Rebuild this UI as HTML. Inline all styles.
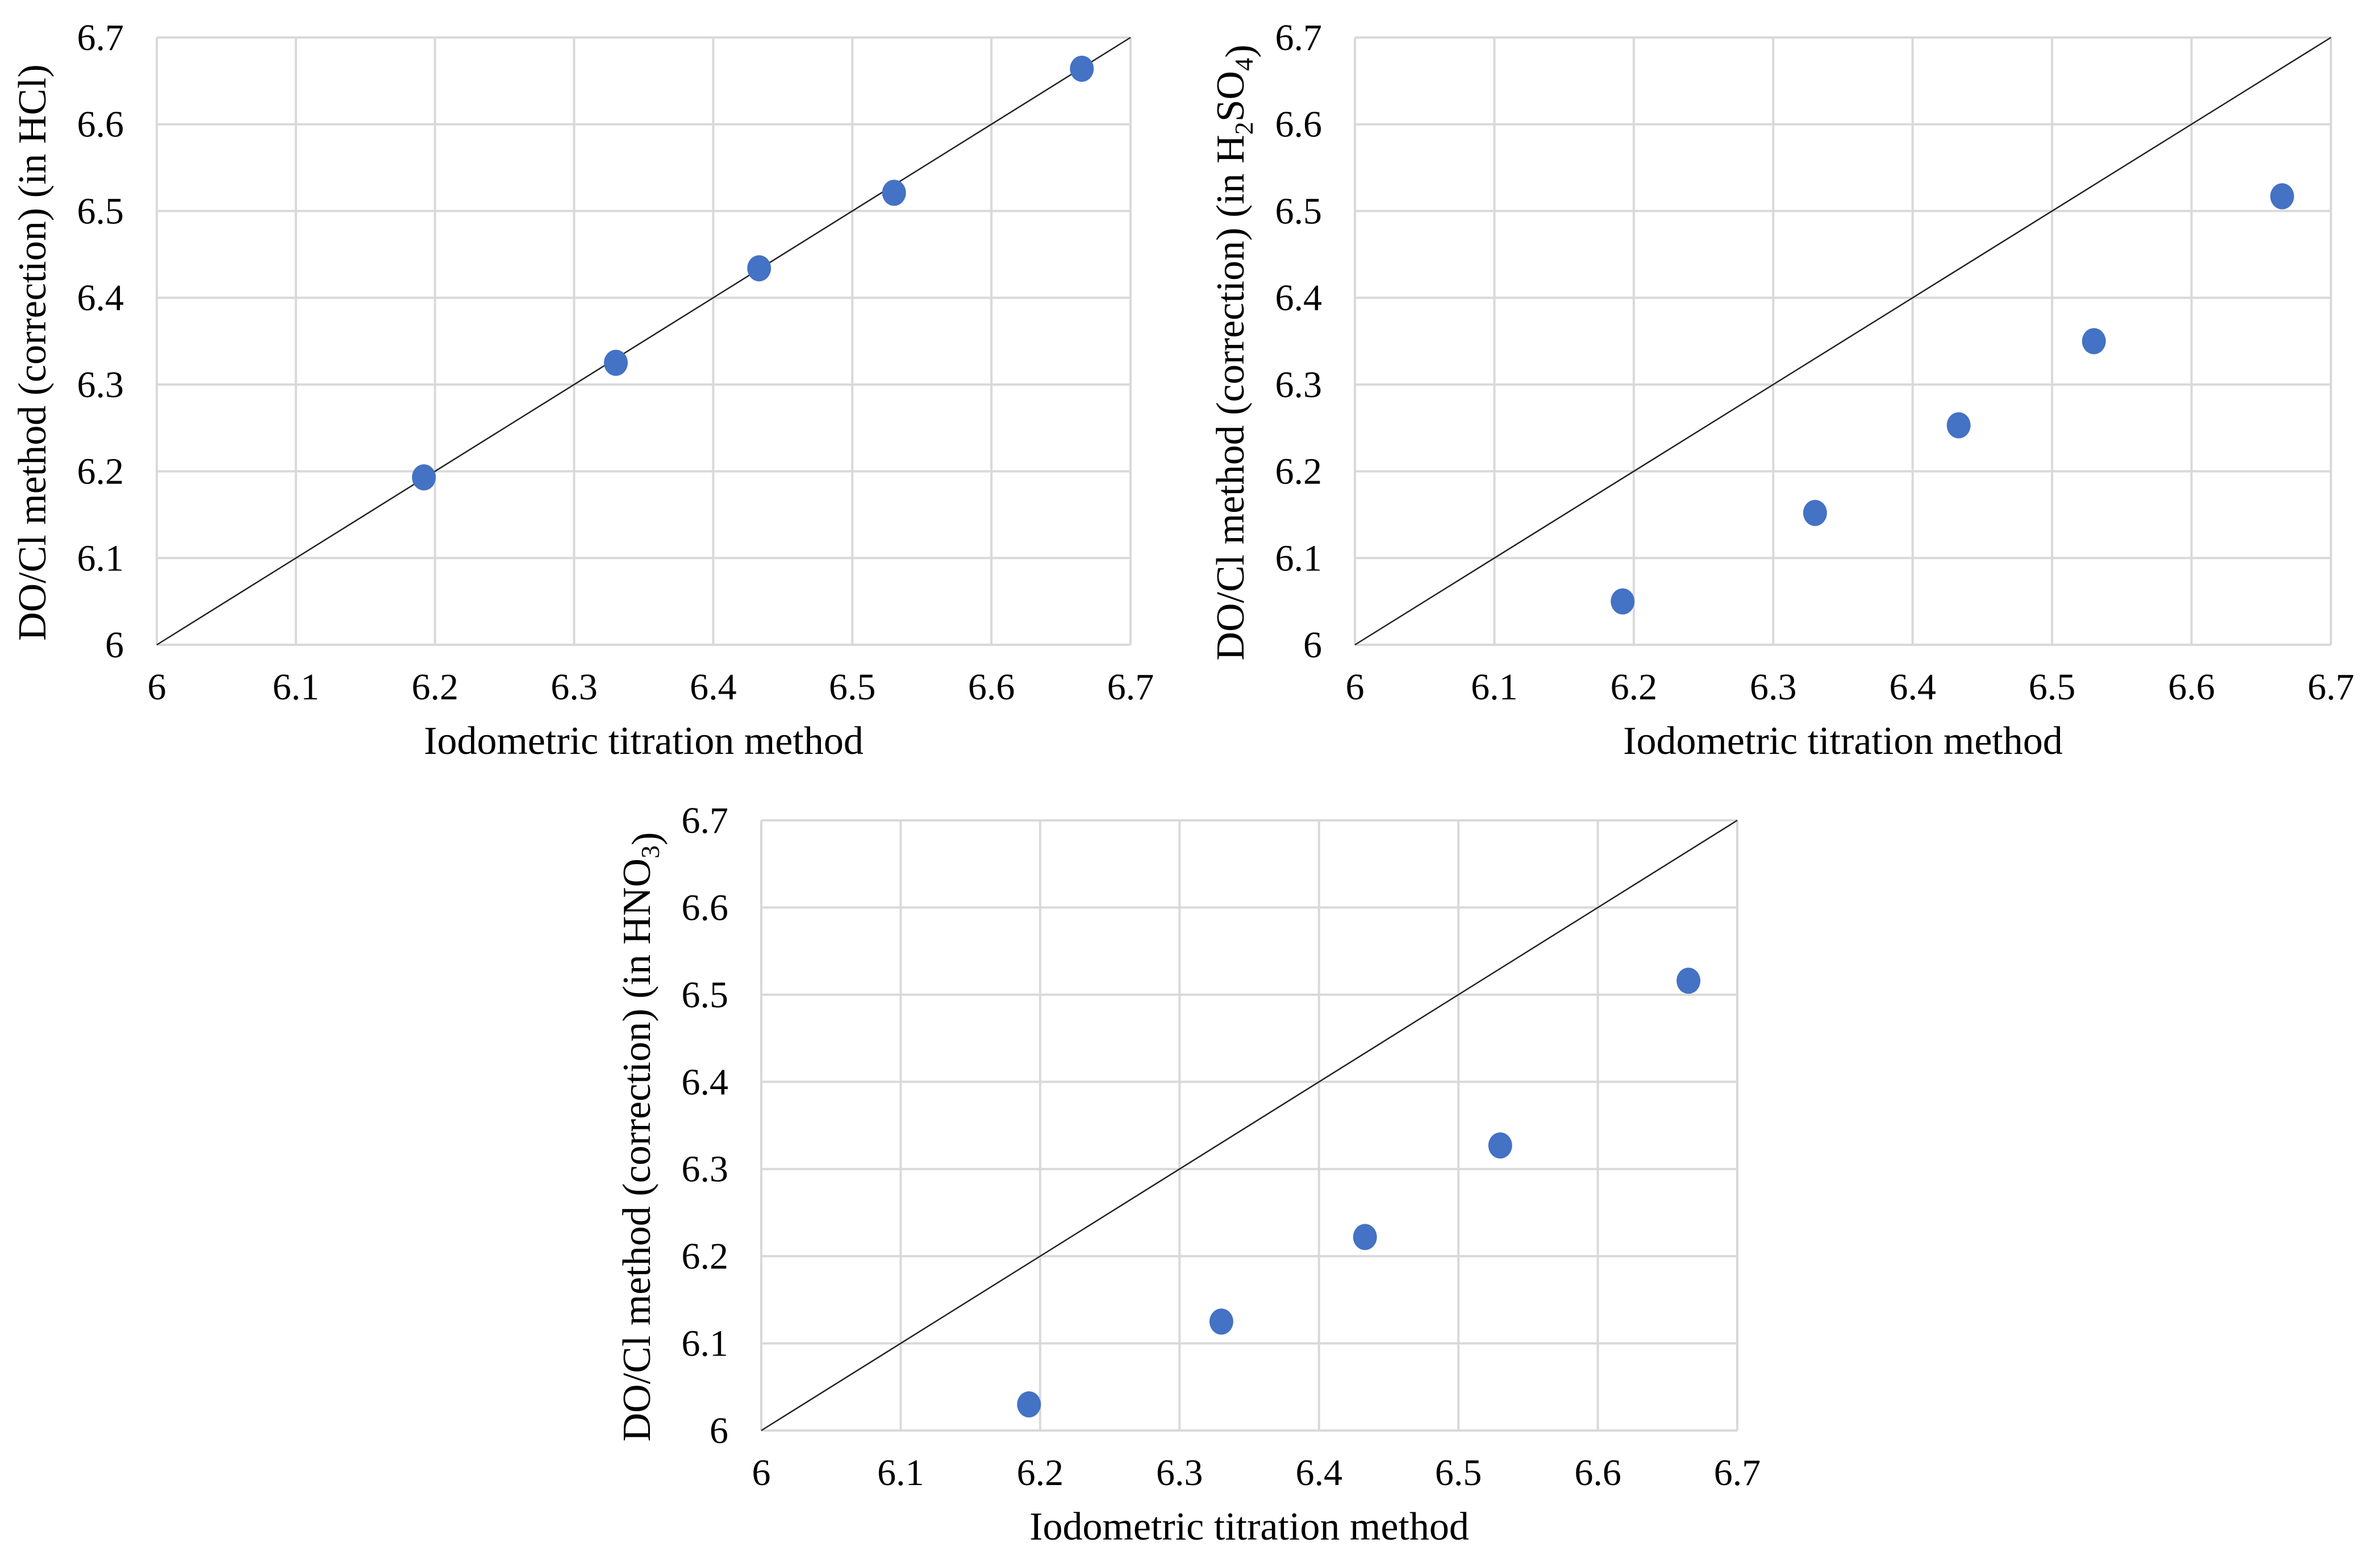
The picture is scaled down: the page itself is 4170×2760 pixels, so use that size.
<!DOCTYPE html>
<html><head><meta charset="utf-8">
<style>
html,body{margin:0;padding:0;background:#fff;}
svg{display:block;}
text{font-family:"Liberation Serif",serif;fill:#000;}
</style></head>
<body>
<svg id="fig" width="4170" height="2760" viewBox="0 0 4170 2760" xmlns="http://www.w3.org/2000/svg"></svg>
<script>
const ticks = [6, 6.1, 6.2, 6.3, 6.4, 6.5, 6.6, 6.7];
const tickLabels = ["6", "6.1", "6.2", "6.3", "6.4", "6.5", "6.6", "6.7"];
const xIodometric = [6.192, 6.330, 6.433, 6.530, 6.665];
const yHCl = [6.193, 6.325, 6.434, 6.521, 6.664];
const yH2SO4 = [6.050, 6.152, 6.253, 6.350, 6.517];
const yHNO3 = [6.030, 6.125, 6.222, 6.327, 6.516];

const NS = "http://www.w3.org/2000/svg";
const svg = document.getElementById("fig");
function mk(tag, attrs, parent){
  const e = document.createElementNS(NS, tag);
  for (const k in attrs) e.setAttribute(k, attrs[k]);
  (parent||svg).appendChild(e);
  return e;
}
function panel(name, L, R, T, B, ys, acid){
  const g = mk("g", {});
  
  
  const xs = v => L + (v - 6) / 0.7 * (R - L);
  const ysc = v => B - (v - 6) / 0.7 * (B - T);
  mk("rect", {x:L, y:T, width:R-L, height:B-T, fill:"#fff"}, g);
  ticks.forEach((t, i) => {
    const gx = mk("line", {x1:xs(t), x2:xs(t), y1:T, y2:B, stroke:"#d9d9d9", "stroke-width":4}, g);
    
    
    const gy = mk("line", {x1:L, x2:R, y1:ysc(t), y2:ysc(t), stroke:"#d9d9d9", "stroke-width":4}, g);
    
    
    const tx = mk("text", {x:xs(t), y:B+96, "font-size":66, "text-anchor":"middle"}, g);
    tx.textContent = tickLabels[i];
    
    
    const ty = mk("text", {x:L-58, y:ysc(t)+22, "font-size":66, "text-anchor":"end"}, g);
    ty.textContent = tickLabels[i];
    
    
  });
  const d = mk("line", {x1:xs(6), y1:ysc(6), x2:xs(6.7), y2:ysc(6.7), stroke:"#222", "stroke-width":2.5}, g);
  
  
  xIodometric.forEach((v, i) => {
    const c = mk("ellipse", {cx:xs(v), cy:ysc(ys[i]), rx:21, ry:23, fill:"#4472c4"}, g);
    
    
  });
  const xt = mk("text", {x:(L+R)/2, y:B+192, "font-size":70, "text-anchor":"middle"}, g);
  xt.textContent = "Iodometric titration method";
  
  
  const cx = L - 196, cy = (T+B)/2 + 20;
  const yt = mk("text", {x:cx, y:cy, "font-size":70, "text-anchor":"middle", transform:`rotate(-90 ${cx} ${cy})`}, g);
  
  
  yt.appendChild(document.createTextNode("DO/Cl method (correction) (in " + acid[0]));
  for (let k = 1; k < acid.length; k++){
    const s = mk("tspan", {"font-size":46, dy:16}, yt);
    s.textContent = acid[k][0];
    const r = mk("tspan", {"font-size":70, dy:-16}, yt);
    r.textContent = acid[k][1];
  }
  yt.appendChild(document.createTextNode(")"));
}
panel("chart-hcl", 276, 1990, 66, 1135, yHCl, ["HCl"]);
panel("chart-h2so4", 2385, 4103, 66, 1135, yH2SO4, ["H", ["2","SO"], ["4",""]]);
panel("chart-hno3", 1340, 3058, 1444, 2518, yHNO3, ["HNO", ["3",""]]);
</script>
</body></html>
